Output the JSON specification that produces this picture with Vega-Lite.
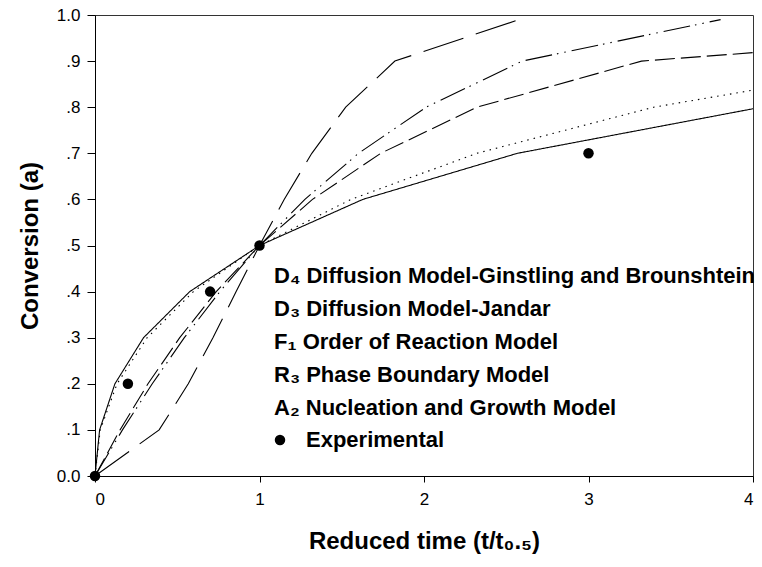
{
  "$schema": "https://vega.github.io/schema/vega-lite/v6.json",
  "autosize": {"type": "none"},
  "padding": {"left": 95, "top": 15, "right": 9, "bottom": 91},
  "width": 658,
  "height": 461,
  "background": "white",
  "config": {
    "font": "Liberation Sans",
    "view": {"stroke": "#333333", "strokeWidth": 1},
    "axis": {"grid": false, "domainColor": "black", "tickColor": "black", "labelColor": "black", "titleColor": "black", "labelFont": "Liberation Sans", "titleFont": "Liberation Sans"}
  },
  "datasets": {
    "models": [
      {"model": "D₄ Diffusion Model-Ginstling and Brounshtein", "t": 0, "a": 0},
      {"model": "D₄ Diffusion Model-Ginstling and Brounshtein", "t": 0.032, "a": 0.1},
      {"model": "D₄ Diffusion Model-Ginstling and Brounshtein", "t": 0.134, "a": 0.2},
      {"model": "D₄ Diffusion Model-Ginstling and Brounshtein", "t": 0.317, "a": 0.3},
      {"model": "D₄ Diffusion Model-Ginstling and Brounshtein", "t": 0.598, "a": 0.4},
      {"model": "D₄ Diffusion Model-Ginstling and Brounshtein", "t": 1, "a": 0.5},
      {"model": "D₄ Diffusion Model-Ginstling and Brounshtein", "t": 1.556, "a": 0.6},
      {"model": "D₄ Diffusion Model-Ginstling and Brounshtein", "t": 2.321, "a": 0.7},
      {"model": "D₄ Diffusion Model-Ginstling and Brounshtein", "t": 3.396, "a": 0.8},
      {"model": "D₄ Diffusion Model-Ginstling and Brounshtein", "t": 5.03, "a": 0.9},
      {"model": "D₃ Diffusion Model-Jandar", "t": 0, "a": 0},
      {"model": "D₃ Diffusion Model-Jandar", "t": 0.028, "a": 0.1},
      {"model": "D₃ Diffusion Model-Jandar", "t": 0.121, "a": 0.2},
      {"model": "D₃ Diffusion Model-Jandar", "t": 0.295, "a": 0.3},
      {"model": "D₃ Diffusion Model-Jandar", "t": 0.576, "a": 0.4},
      {"model": "D₃ Diffusion Model-Jandar", "t": 1, "a": 0.5},
      {"model": "D₃ Diffusion Model-Jandar", "t": 1.628, "a": 0.6},
      {"model": "D₃ Diffusion Model-Jandar", "t": 2.568, "a": 0.7},
      {"model": "D₃ Diffusion Model-Jandar", "t": 4.05, "a": 0.8},
      {"model": "F₁ Order of Reaction Model", "t": 0, "a": 0},
      {"model": "F₁ Order of Reaction Model", "t": 0.152, "a": 0.1},
      {"model": "F₁ Order of Reaction Model", "t": 0.322, "a": 0.2},
      {"model": "F₁ Order of Reaction Model", "t": 0.515, "a": 0.3},
      {"model": "F₁ Order of Reaction Model", "t": 0.737, "a": 0.4},
      {"model": "F₁ Order of Reaction Model", "t": 1, "a": 0.5},
      {"model": "F₁ Order of Reaction Model", "t": 1.322, "a": 0.6},
      {"model": "F₁ Order of Reaction Model", "t": 1.737, "a": 0.7},
      {"model": "F₁ Order of Reaction Model", "t": 2.322, "a": 0.8},
      {"model": "F₁ Order of Reaction Model", "t": 3.322, "a": 0.9},
      {"model": "F₁ Order of Reaction Model", "t": 6.644, "a": 0.99},
      {"model": "R₃ Phase Boundary Model", "t": 0, "a": 0},
      {"model": "R₃ Phase Boundary Model", "t": 0.167, "a": 0.1},
      {"model": "R₃ Phase Boundary Model", "t": 0.348, "a": 0.2},
      {"model": "R₃ Phase Boundary Model", "t": 0.543, "a": 0.3},
      {"model": "R₃ Phase Boundary Model", "t": 0.759, "a": 0.4},
      {"model": "R₃ Phase Boundary Model", "t": 1, "a": 0.5},
      {"model": "R₃ Phase Boundary Model", "t": 1.276, "a": 0.6},
      {"model": "R₃ Phase Boundary Model", "t": 1.602, "a": 0.7},
      {"model": "R₃ Phase Boundary Model", "t": 2.013, "a": 0.8},
      {"model": "R₃ Phase Boundary Model", "t": 2.597, "a": 0.9},
      {"model": "R₃ Phase Boundary Model", "t": 3.803, "a": 0.99},
      {"model": "A₂ Nucleation and Growth Model", "t": 0, "a": 0},
      {"model": "A₂ Nucleation and Growth Model", "t": 0.39, "a": 0.1},
      {"model": "A₂ Nucleation and Growth Model", "t": 0.567, "a": 0.2},
      {"model": "A₂ Nucleation and Growth Model", "t": 0.717, "a": 0.3},
      {"model": "A₂ Nucleation and Growth Model", "t": 0.858, "a": 0.4},
      {"model": "A₂ Nucleation and Growth Model", "t": 1, "a": 0.5},
      {"model": "A₂ Nucleation and Growth Model", "t": 1.15, "a": 0.6},
      {"model": "A₂ Nucleation and Growth Model", "t": 1.318, "a": 0.7},
      {"model": "A₂ Nucleation and Growth Model", "t": 1.524, "a": 0.8},
      {"model": "A₂ Nucleation and Growth Model", "t": 1.823, "a": 0.9},
      {"model": "A₂ Nucleation and Growth Model", "t": 2.578, "a": 0.99}
    ],
    "experimental": [
      {"series": "Experimental", "t": 0, "a": 0},
      {"series": "Experimental", "t": 0.2, "a": 0.2},
      {"series": "Experimental", "t": 0.7, "a": 0.4},
      {"series": "Experimental", "t": 1, "a": 0.5},
      {"series": "Experimental", "t": 3, "a": 0.7}
    ]
  },
  "layer": [
    {
      "data": {"name": "models"},
      "mark": {"type": "line", "color": "black", "strokeWidth": 1.1, "clip": true},
      "encoding": {
        "x": {
          "field": "t", "type": "quantitative",
          "scale": {"domain": [0, 4], "nice": false, "zero": false},
          "axis": {"values": [0, 1, 2, 3, 4], "format": "d", "tickSize": 6, "labelPadding": 9, "labelFontSize": 17, "title": "Reduced time (t/t₀.₅)", "titleFontSize": 24, "titleFontWeight": "bold", "titlePadding": 22}
        },
        "y": {
          "field": "a", "type": "quantitative",
          "scale": {"domain": [0, 1], "nice": false},
          "axis": {"values": [0, 0.1, 0.2, 0.3, 0.4, 0.5, 0.6, 0.7, 0.8, 0.9, 1], "labelExpr": "datum.value == 0 ? '0.0' : datum.value == 1 ? '1.0' : replace(format(datum.value, '.1f'), '0.', '.')", "tickSize": 8, "labelPadding": 7, "labelFontSize": 17, "title": "Conversion (a)", "titleFontSize": 24, "titleFontWeight": "bold", "titlePadding": 14}
        },
        "strokeDash": {
          "field": "model", "type": "nominal",
          "scale": {
            "domain": ["D₄ Diffusion Model-Ginstling and Brounshtein", "D₃ Diffusion Model-Jandar", "F₁ Order of Reaction Model", "R₃ Phase Boundary Model", "A₂ Nucleation and Growth Model"],
            "range": [[1.5, 5], [1, 0], [20, 6], [27, 5, 1.5, 6, 1.5, 6], [42, 13]]
          },
          "legend": {
            "orient": "none", "legendX": 157, "legendY": 250, "title": null,
            "symbolSize": 0, "symbolOpacity": 0, "symbolStrokeWidth": 0,
            "labelOffset": 0, "labelFontSize": 22, "labelFontWeight": "bold", "labelFont": "Liberation Sans", "labelColor": "black", "labelLimit": 700, "rowPadding": 11, "padding": 0
          }
        }
      }
    },
    {
      "data": {"name": "experimental"},
      "mark": {"type": "point", "filled": true, "color": "black", "size": 110, "opacity": 1},
      "encoding": {
        "x": {"field": "t", "type": "quantitative"},
        "y": {"field": "a", "type": "quantitative"},
        "shape": {
          "field": "series", "type": "nominal",
          "scale": {"domain": ["Experimental"], "range": ["circle"]},
          "legend": {
            "orient": "none", "legendX": 174, "legendY": 414, "title": null,
            "symbolSize": 110, "symbolFillColor": "black", "symbolStrokeColor": "black", "symbolOpacity": 1,
            "labelOffset": 15, "labelFontSize": 22, "labelFontWeight": "bold", "labelFont": "Liberation Sans", "labelColor": "black", "labelLimit": 400, "padding": 0
          }
        }
      }
    }
  ]
}
